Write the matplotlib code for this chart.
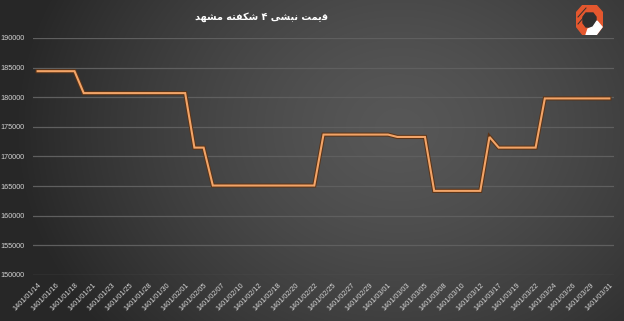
import numpy as np
import matplotlib
matplotlib.use("Agg")
from matplotlib import pyplot as plt
import matplotlib.patheffects as pe
from matplotlib.patches import Polygon

dates = [
    "1401/01/14", "1401/01/15", "1401/01/16", "1401/01/17", "1401/01/18",
    "1401/01/20", "1401/01/21", "1401/01/22", "1401/01/23", "1401/01/24",
    "1401/01/25", "1401/01/27", "1401/01/28", "1401/01/29", "1401/01/30",
    "1401/01/31", "1401/02/01", "1401/02/03", "1401/02/05", "1401/02/06",
    "1401/02/07", "1401/02/08", "1401/02/10", "1401/02/11", "1401/02/12",
    "1401/02/13", "1401/02/18", "1401/02/19", "1401/02/20", "1401/02/21",
    "1401/02/22", "1401/02/24", "1401/02/25", "1401/02/26", "1401/02/27",
    "1401/02/28", "1401/02/29", "1401/02/31", "1401/03/01", "1401/03/02",
    "1401/03/03", "1401/03/04", "1401/03/05", "1401/03/07", "1401/03/08",
    "1401/03/09", "1401/03/10", "1401/03/11", "1401/03/12", "1401/03/16",
    "1401/03/17", "1401/03/18", "1401/03/19", "1401/03/21", "1401/03/22",
    "1401/03/23", "1401/03/24", "1401/03/25", "1401/03/26", "1401/03/28",
    "1401/03/29", "1401/03/30", "1401/03/31",
]
prices = [
    184400, 184400, 184400, 184400, 184400,
    180700, 180700, 180700, 180700, 180700, 180700,
    180700, 180700, 180700, 180700, 180700, 180700,
    171500, 171500,
    165100, 165100, 165100, 165100, 165100, 165100,
    165100, 165100, 165100, 165100, 165100, 165100,
    173700, 173700, 173700, 173700, 173700, 173700, 173700, 173700,
    173300, 173300, 173300, 173300,
    164200, 164200, 164200, 164200, 164200, 164200,
    173300,
    171500, 171500, 171500, 171500, 171500,
    179800, 179800, 179800, 179800, 179800, 179800, 179800, 179800,
]
y_ticks = [150000, 155000, 160000, 165000, 170000, 175000, 180000, 185000, 190000]

# title "قیمت نبشی ۴ شکفته مشهد" written in shaped, visual (LTR) order
title = ("\uFEAA\uFEEC\uFEB8\uFEE3 "
         "\uFEEA\uFE98\uFED4\uFB91\uFEB7 "
         "\u06F4 "
         "\uFBFD\uFEB8\uFE92\uFEE7 "
         "\uFE96\uFEE4\uFBFE\uFED7")

W, H = 624, 321
fig = plt.figure(figsize=(W / 100, H / 100), dpi=100)

# dark gradient background
bg = fig.add_axes([0, 0, 1, 1])
bg.axis("off")
gx, gy = np.meshgrid(np.linspace(0, 1, W), np.linspace(0, 1, H))
d = np.sqrt(((gx - 0.64) / 0.62) ** 2 + ((gy - 0.6) / 1.0) ** 2)
shade = (0x57 - (0x57 - 0x27) * np.clip(d, 0, 1) ** 1.4) / 255
bg.imshow(np.dstack([shade, shade, shade]), aspect="auto", extent=[0, 1, 0, 1], origin="lower")
bg.set_xlim(0, 1)
bg.set_ylim(0, 1)

ax = fig.add_axes([33 / W, 1 - 275 / H, 581 / W, 237 / H])
ax.set_facecolor("none")
x = np.arange(len(dates))
ax.plot(x, prices, color="#f2a468", lw=1.5, solid_joinstyle="miter",
        path_effects=[pe.Stroke(linewidth=3.0, foreground="#5c3417"), pe.Normal()])

ax.set_xlim(-0.5, len(dates) - 0.5)
ax.set_ylim(150000, 190000)
ax.set_yticks(y_ticks)
ax.set_yticklabels([str(v) for v in y_ticks])
for v in y_ticks:
    ax.axhline(v, color="#5f5f5f", lw=0.9, zorder=0)
ax.set_xticks(x[::2])
ax.set_xticklabels(dates[::2], rotation=45, ha="right", rotation_mode="anchor")
ax.tick_params(axis="both", length=0, colors="#d4d4d4", labelsize=5.2)
ax.tick_params(axis="y", pad=6)
ax.tick_params(axis="x", pad=5)
for lab in ax.get_xticklabels() + ax.get_yticklabels():
    lab.set_family("Liberation Sans")
for s in ax.spines.values():
    s.set_visible(False)

fig.text(262 / W, 1 - 17 / H, title, color="white", fontsize=7, fontweight="bold",
         family=["DejaVu Sans"], ha="center", va="center")

# logo
lg = fig.add_axes([576 / W, 1 - 35 / H, 27 / W, 30 / H])
lg.axis("off")
lg.set_xlim(0, 27)
lg.set_ylim(30, 0)
lg.add_patch(Polygon([(7, 0), (20, 0), (27, 8), (27, 21), (20, 30), (7, 30), (0, 21), (0, 8)],
                     closed=True, color="#e4572e"))
lg.add_patch(Polygon([(10, 8), (17, 8), (20, 12), (20, 18), (17, 22), (10, 22), (7, 18), (7, 12)],
                     closed=True, color="#303030"))
lg.add_patch(Polygon([(10, 30), (20, 30), (26, 22), (21, 16), (17, 22), (12, 24)],
                     closed=True, color="white"))
lg.plot([2, 10], [12, 3], color="#303030", lw=0.7)
lg.plot([2, 8], [19, 12], color="#303030", lw=0.7)

fig.savefig("out.png", dpi=100)
